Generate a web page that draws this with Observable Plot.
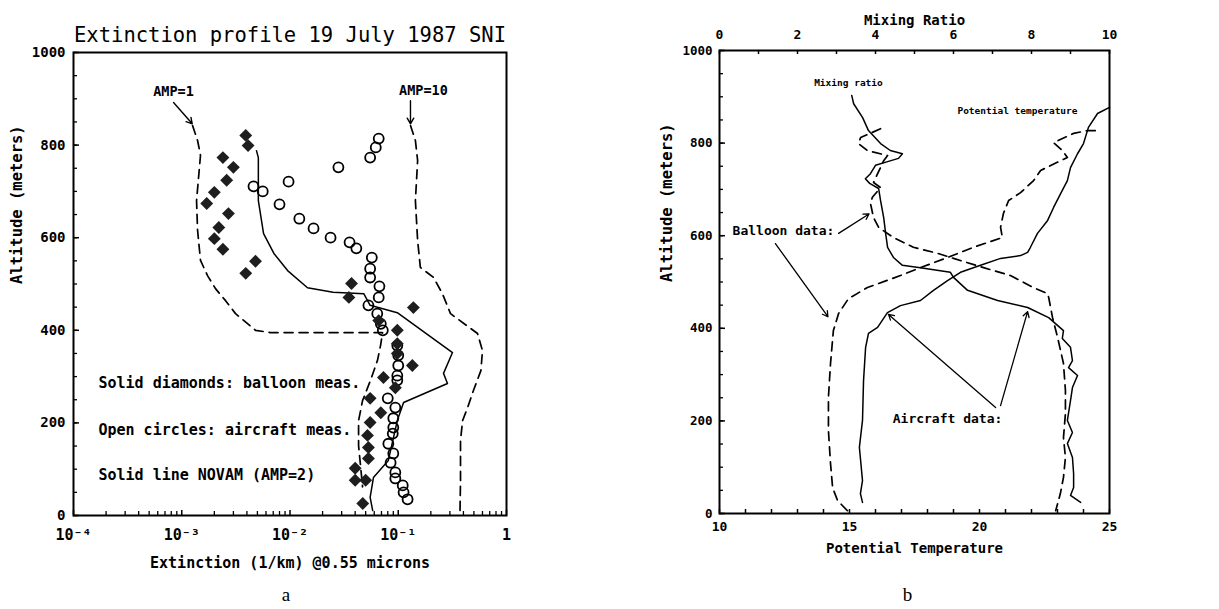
<!DOCTYPE html>
<html><head><meta charset="utf-8">
<script src="https://cdn.jsdelivr.net/npm/d3@7"></script>
<script src="https://cdn.jsdelivr.net/npm/@observablehq/plot@0.6"></script>
<style>
html,body{margin:0;padding:0;background:#fff;}
#wrap{position:relative;width:1219px;height:609px;overflow:hidden;}
#wrap svg{position:absolute;top:0;max-width:none !important;}
</style></head><body><div id="wrap"></div>
<script>
// ---------------- Panel a: extinction profile ----------------
const xTicksA = [1e-4, 1e-3, 1e-2, 1e-1, 1];
const xTickLabelsA = ["10⁻⁴", "10⁻³", "10⁻²", "10⁻¹", "1"];
const yTicks = [0, 200, 400, 600, 800, 1000];
const logDecades = [1e-4, 1e-3, 1e-2, 1e-1];
const logMultipliers = [2, 3, 4, 5, 6, 7, 8, 9];

// [extinction (1/km), altitude (m)]
const balloonA = [[0.0039,821],[0.0041,799],[0.0024,773],[0.0030,752],[0.0026,724],[0.0020,698],[0.0017,674],[0.0027,652],[0.0022,622],[0.0020,598],[0.0024,575],[0.0048,549],[0.0039,523],[0.037,501],[0.035,471],[0.138,449],[0.066,421],[0.098,400],[0.098,371],[0.098,350],[0.135,324],[0.073,298],[0.094,276],[0.055,253],[0.069,222],[0.055,201],[0.052,173],[0.053,147],[0.053,123],[0.040,102],[0.040,76],[0.050,76],[0.047,26]];
const aircraftA = [[0.066,814],[0.062,795],[0.055,773],[0.028,752],[0.0097,721],[0.0046,711],[0.0056,700],[0.0080,672],[0.0122,641],[0.0165,620],[0.0237,600],[0.0355,590],[0.041,577],[0.057,557],[0.055,533],[0.055,514],[0.067,495],[0.066,471],[0.053,454],[0.064,436],[0.069,414],[0.072,400],[0.098,367],[0.100,346],[0.100,324],[0.098,302],[0.098,292],[0.080,253],[0.094,233],[0.090,210],[0.090,190],[0.089,177],[0.081,155],[0.090,134],[0.085,114],[0.094,93],[0.094,80],[0.110,65],[0.112,50],[0.122,35]];
const novam = [[0.0049,788],[0.0051,773],[0.0051,680],[0.0057,609],[0.0071,566],[0.0095,529],[0.0145,492],[0.025,482],[0.048,479],[0.055,454],[0.098,438],[0.317,352],[0.262,307],[0.285,285],[0.112,244],[0.098,205],[0.081,119],[0.059,82],[0.055,39],[0.058,11]];
const amp1 = [[0.00126,842],[0.0014,810],[0.00149,778],[0.00143,730],[0.00137,680],[0.0014,616],[0.00149,551],[0.00173,518],[0.00205,490],[0.00254,464],[0.00314,436],[0.0048,400],[0.0066,395],[0.0716,395],[0.0686,367],[0.0643,335],[0.0554,292],[0.0468,248],[0.043,205],[0.043,151],[0.0448,108],[0.0468,62]];
const amp10 = [[0.130,842],[0.144,810],[0.151,767],[0.144,680],[0.151,594],[0.160,536],[0.212,514],[0.256,479],[0.304,436],[0.540,393],[0.600,356],[0.580,313],[0.495,270],[0.437,233],[0.393,205],[0.376,162],[0.376,76],[0.372,11]];
const notesA = [
  {text: "Solid diamonds: balloon meas.", ext: 0.00017, alt: 285},
  {text: "Open circles: aircraft meas.", ext: 0.00017, alt: 184},
  {text: "Solid line NOVAM (AMP=2)", ext: 0.00017, alt: 86}
];
const ampLabels = [
  {text: "AMP=1", ext: 0.00084, alt: 916},
  {text: "AMP=10", ext: 0.171, alt: 918}
];
const ampArrows = [
  {ext1: 0.00084, alt1: 892, ext2: 0.00125, alt2: 846},
  {ext1: 0.1297, alt1: 896, ext2: 0.1297, alt2: 846}
];

// ---------------- Panel b: potential temperature / mixing ratio ----------------
const ptTicks = [10, 15, 20, 25];
const ptMinor = [10,11,12,13,14,15,16,17,18,19,20,21,22,23,24,25];
const mrTicks = [0, 2, 4, 6, 8, 10];
const mrMinor = [0,1,2,3,4,5,6,7,8,9,10];
const yMinor = [0,50,100,150,200,250,300,350,400,450,500,550,600,650,700,750,800,850,900,950,1000];

// [potential temperature, altitude]
const ptAircraft = [[15.5,24],[15.42,43],[15.5,71],[15.38,143],[15.5,201],[15.54,287],[15.62,359],[15.73,389],[16.08,402],[16.46,434],[16.96,449],[17.73,460],[18.23,482],[18.77,503],[19.27,521],[20.04,536],[20.81,551],[21.58,557],[21.85,564],[21.96,575],[22.23,605],[22.62,633],[22.85,661],[23.12,691],[23.38,719],[23.5,747],[23.77,777],[24.0,799],[24.19,834],[24.54,864],[25.0,877]];
const ptBalloon = [[14.92,6],[14.54,28],[14.35,56],[14.27,108],[14.19,179],[14.19,251],[14.27,324],[14.38,395],[14.58,432],[14.96,464],[15.69,488],[16.96,514],[17.73,531],[18.77,553],[19.77,575],[20.88,596],[20.81,618],[20.92,648],[21.12,676],[21.58,693],[22.08,719],[22.35,741],[23.38,769],[23.19,784],[22.85,801],[23.62,821],[24.15,827],[24.6,827]];
// [mixing ratio, altitude]
const mrAircraft = [[3.39,903],[3.44,885],[3.67,855],[3.82,827],[4.13,799],[4.38,784],[4.69,777],[4.59,767],[4.31,760],[4.0,752],[3.87,734],[3.74,723],[3.85,713],[4.08,702],[4.13,676],[4.21,639],[4.26,605],[4.31,575],[4.46,553],[4.69,536],[5.15,531],[5.92,521],[6.0,510],[6.36,482],[7.13,460],[7.90,445],[8.44,423],[8.82,395],[8.79,378],[9.0,359],[9.05,330],[8.95,315],[9.18,298],[9.05,272],[9.0,244],[8.92,201],[9.05,175],[8.92,151],[9.05,121],[9.08,86],[9.08,56],[9.0,39],[9.26,24]];
const mrBalloon = [[4.13,831],[3.62,812],[3.56,799],[3.79,784],[4.31,773],[4.21,762],[3.95,715],[4.13,704],[3.92,683],[3.87,670],[3.95,639],[4.08,618],[4.46,596],[4.97,575],[5.59,562],[6.0,551],[6.77,531],[7.46,514],[8.05,488],[8.41,475],[8.44,467],[8.54,423],[8.67,380],[8.82,324],[8.87,266],[8.87,216],[8.82,164],[8.87,121],[8.82,78],[8.74,43],[8.62,6]];
const notesBSmall = [
  {text: "Mixing ratio", pt: 14.96, alt: 929},
  {text: "Potential temperature", pt: 21.46, alt: 870}
];
const notesB = [
  {text: "Balloon data:", pt: 12.46, alt: 611},
  {text: "Aircraft data:", pt: 18.77, alt: 205}
];
const arrowsB = [
  {pt1: 14.58, alt1: 605, pt2: 15.75, alt2: 647},
  {pt1: 12.15, alt1: 583, pt2: 14.17, alt2: 425},
  {pt1: 20.62, alt1: 229, pt2: 16.5, alt2: 430},
  {pt1: 20.81, alt1: 233, pt2: 21.85, alt2: 436}
];

// ---------------- layout ----------------
const H = 609;
const WA = 600, mA = {top: 52, right: 94, bottom: 94, left: 73};
const fwA = WA - mA.left - mA.right, fhA = H - mA.top - mA.bottom;
const WB = 619, mB = {top: 50, right: 110, bottom: 96, left: 119};
const fwB = WB - mB.left - mB.right, fhB = H - mB.top - mB.bottom;
const mono = "DejaVu Sans Mono";
const baseStyle = {fontFamily: mono, fontSize: "14px", background: "transparent", color: "black", overflow: "visible"};
const minorLog = logDecades.flatMap(d => logMultipliers.map(k => d * k));
const plain = d => String(d);

const plotA = Plot.plot({
  width: WA, height: H,
  marginTop: mA.top, marginRight: mA.right, marginBottom: mA.bottom, marginLeft: mA.left,
  x: {type: "log", domain: [1e-4, 1], label: null},
  y: {domain: [0, 1000], label: null},
  style: baseStyle,
  marks: [
    Plot.tickX(minorLog, {x: d => d, insetTop: fhA - 4, strokeWidth: 1.3}),
    Plot.tickX(xTicksA, {x: d => d, insetTop: fhA - 5, strokeWidth: 1.5}),
    Plot.tickY(yMinor, {y: d => d, insetRight: fwA - 4, strokeWidth: 1.3}),
    Plot.tickY(yTicks, {y: d => d, insetRight: fwA - 6, strokeWidth: 1.5}),
    Plot.axisX({ticks: xTicksA, tickFormat: d => xTickLabelsA[xTicksA.indexOf(d)], tickSize: 0, tickPadding: 14, fontWeight: "bold", fontSize: 15, fontFamily: mono}),
    Plot.axisY({ticks: yTicks, tickFormat: plain, tickSize: 0, tickPadding: 8, fontWeight: "bold", fontSize: 14, fontFamily: mono}),
    Plot.frame({stroke: "black", strokeWidth: 2}),
    Plot.line(amp1, {x: d => d[0], y: d => d[1], stroke: "black", strokeWidth: 1.7, strokeDasharray: "9,6"}),
    Plot.line(amp10, {x: d => d[0], y: d => d[1], stroke: "black", strokeWidth: 1.7, strokeDasharray: "9,6"}),
    Plot.line(novam, {x: d => d[0], y: d => d[1], stroke: "black", strokeWidth: 1.5}),
    Plot.dot(aircraftA, {x: d => d[0], y: d => d[1], r: 5, stroke: "black", strokeWidth: 1.8, fill: "none"}),
    Plot.dot(balloonA, {x: d => d[0], y: d => d[1], symbol: "diamond2", r: 5.8, fill: "#1e1e1e", stroke: "none"}),
    Plot.text(notesA, {x: "ext", y: "alt", text: "text", textAnchor: "start", fontSize: 15, fontWeight: "bold", fontFamily: mono}),
    Plot.text(ampLabels, {x: "ext", y: "alt", text: "text", fontSize: 13.5, fontWeight: "bold", fontFamily: mono}),
    Plot.arrow(ampArrows, {x1: "ext1", y1: "alt1", x2: "ext2", y2: "alt2", stroke: "black", strokeWidth: 1.4, headLength: 7}),
    Plot.text(["Extinction profile 19 July 1987 SNI"], {frameAnchor: "top", dy: -25, fontSize: 20.5, fontFamily: mono}),
    Plot.text(["Extinction (1/km) @0.55 microns"], {frameAnchor: "bottom", dy: 52, fontSize: 15, fontWeight: "bold", fontFamily: mono}),
    Plot.text(["Altitude (meters)"], {frameAnchor: "left", rotate: -90, dx: -56, fontSize: 15.5, fontWeight: "bold", fontFamily: mono}),
    Plot.text(["a"], {frameAnchor: "bottom", dy: 85, dx: -4, fontSize: 19, fontFamily: "Liberation Serif"})
  ]
});
plotA.style.left = "0px";

const plotB = Plot.plot({
  width: WB, height: H,
  marginTop: mB.top, marginRight: mB.right, marginBottom: mB.bottom, marginLeft: mB.left,
  x: {domain: [10, 25], label: null},
  y: {domain: [0, 1000], label: null},
  style: baseStyle,
  marks: [
    Plot.tickX(ptMinor, {x: d => d, insetTop: fhB - 4, strokeWidth: 1.5}),
    Plot.tickY(yMinor, {y: d => d, insetRight: fwB - 4, strokeWidth: 1.3}),
    Plot.tickY(yTicks, {y: d => d, insetRight: fwB - 6, strokeWidth: 1.5}),
    Plot.axisX({ticks: ptTicks, tickFormat: plain, tickSize: 0, tickPadding: 8, fontWeight: "bold", fontSize: 13, fontFamily: mono}),
    Plot.axisY({ticks: yTicks, tickFormat: plain, tickSize: 0, tickPadding: 7, fontWeight: "bold", fontSize: 12.5, fontFamily: mono}),
    Plot.frame({stroke: "black", strokeWidth: 2}),
    Plot.line(ptBalloon, {x: d => d[0], y: d => d[1], stroke: "black", strokeWidth: 1.7, strokeDasharray: "9,6"}),
    Plot.line(ptAircraft, {x: d => d[0], y: d => d[1], stroke: "black", strokeWidth: 1.5}),
    Plot.text(notesBSmall, {x: "pt", y: "alt", text: "text", fontSize: 9.5, fontWeight: "bold", fontFamily: mono}),
    Plot.text(notesB, {x: "pt", y: "alt", text: "text", fontSize: 13, fontWeight: "bold", fontFamily: mono}),
    Plot.arrow(arrowsB, {x1: "pt1", y1: "alt1", x2: "pt2", y2: "alt2", stroke: "black", strokeWidth: 1.3, headLength: 7}),
    Plot.text(["Potential Temperature"], {frameAnchor: "bottom", dy: 39, fontSize: 14, fontWeight: "bold", fontFamily: mono}),
    Plot.text(["Altitude (meters)"], {frameAnchor: "left", rotate: -90, dx: -52, fontSize: 15.5, fontWeight: "bold", fontFamily: mono}),
    Plot.text(["b"], {frameAnchor: "bottom", dy: 87, dx: -7, fontSize: 19, fontFamily: "Liberation Serif"})
  ]
});
plotB.style.left = "600px";

const plotC = Plot.plot({
  width: WB, height: H,
  marginTop: mB.top, marginRight: mB.right, marginBottom: mB.bottom, marginLeft: mB.left,
  x: {domain: [0, 10], label: null},
  y: {domain: [0, 1000], label: null, axis: null},
  style: baseStyle,
  marks: [
    Plot.tickX(mrMinor, {x: d => d, insetBottom: fhB - 4, strokeWidth: 1.5}),
    Plot.axisX({anchor: "top", ticks: mrTicks, tickFormat: plain, tickSize: 0, tickPadding: 12, fontWeight: "bold", fontSize: 13, fontFamily: mono}),
    Plot.line(mrBalloon, {x: d => d[0], y: d => d[1], stroke: "black", strokeWidth: 1.7, strokeDasharray: "9,6"}),
    Plot.line(mrAircraft, {x: d => d[0], y: d => d[1], stroke: "black", strokeWidth: 1.5}),
    Plot.text(["Mixing Ratio"], {frameAnchor: "top", dy: -35, fontSize: 14, fontWeight: "bold", fontFamily: mono})
  ]
});
plotC.style.left = "600px";

const wrap = document.getElementById("wrap");
wrap.append(plotA, plotB, plotC);
</script></body></html>
